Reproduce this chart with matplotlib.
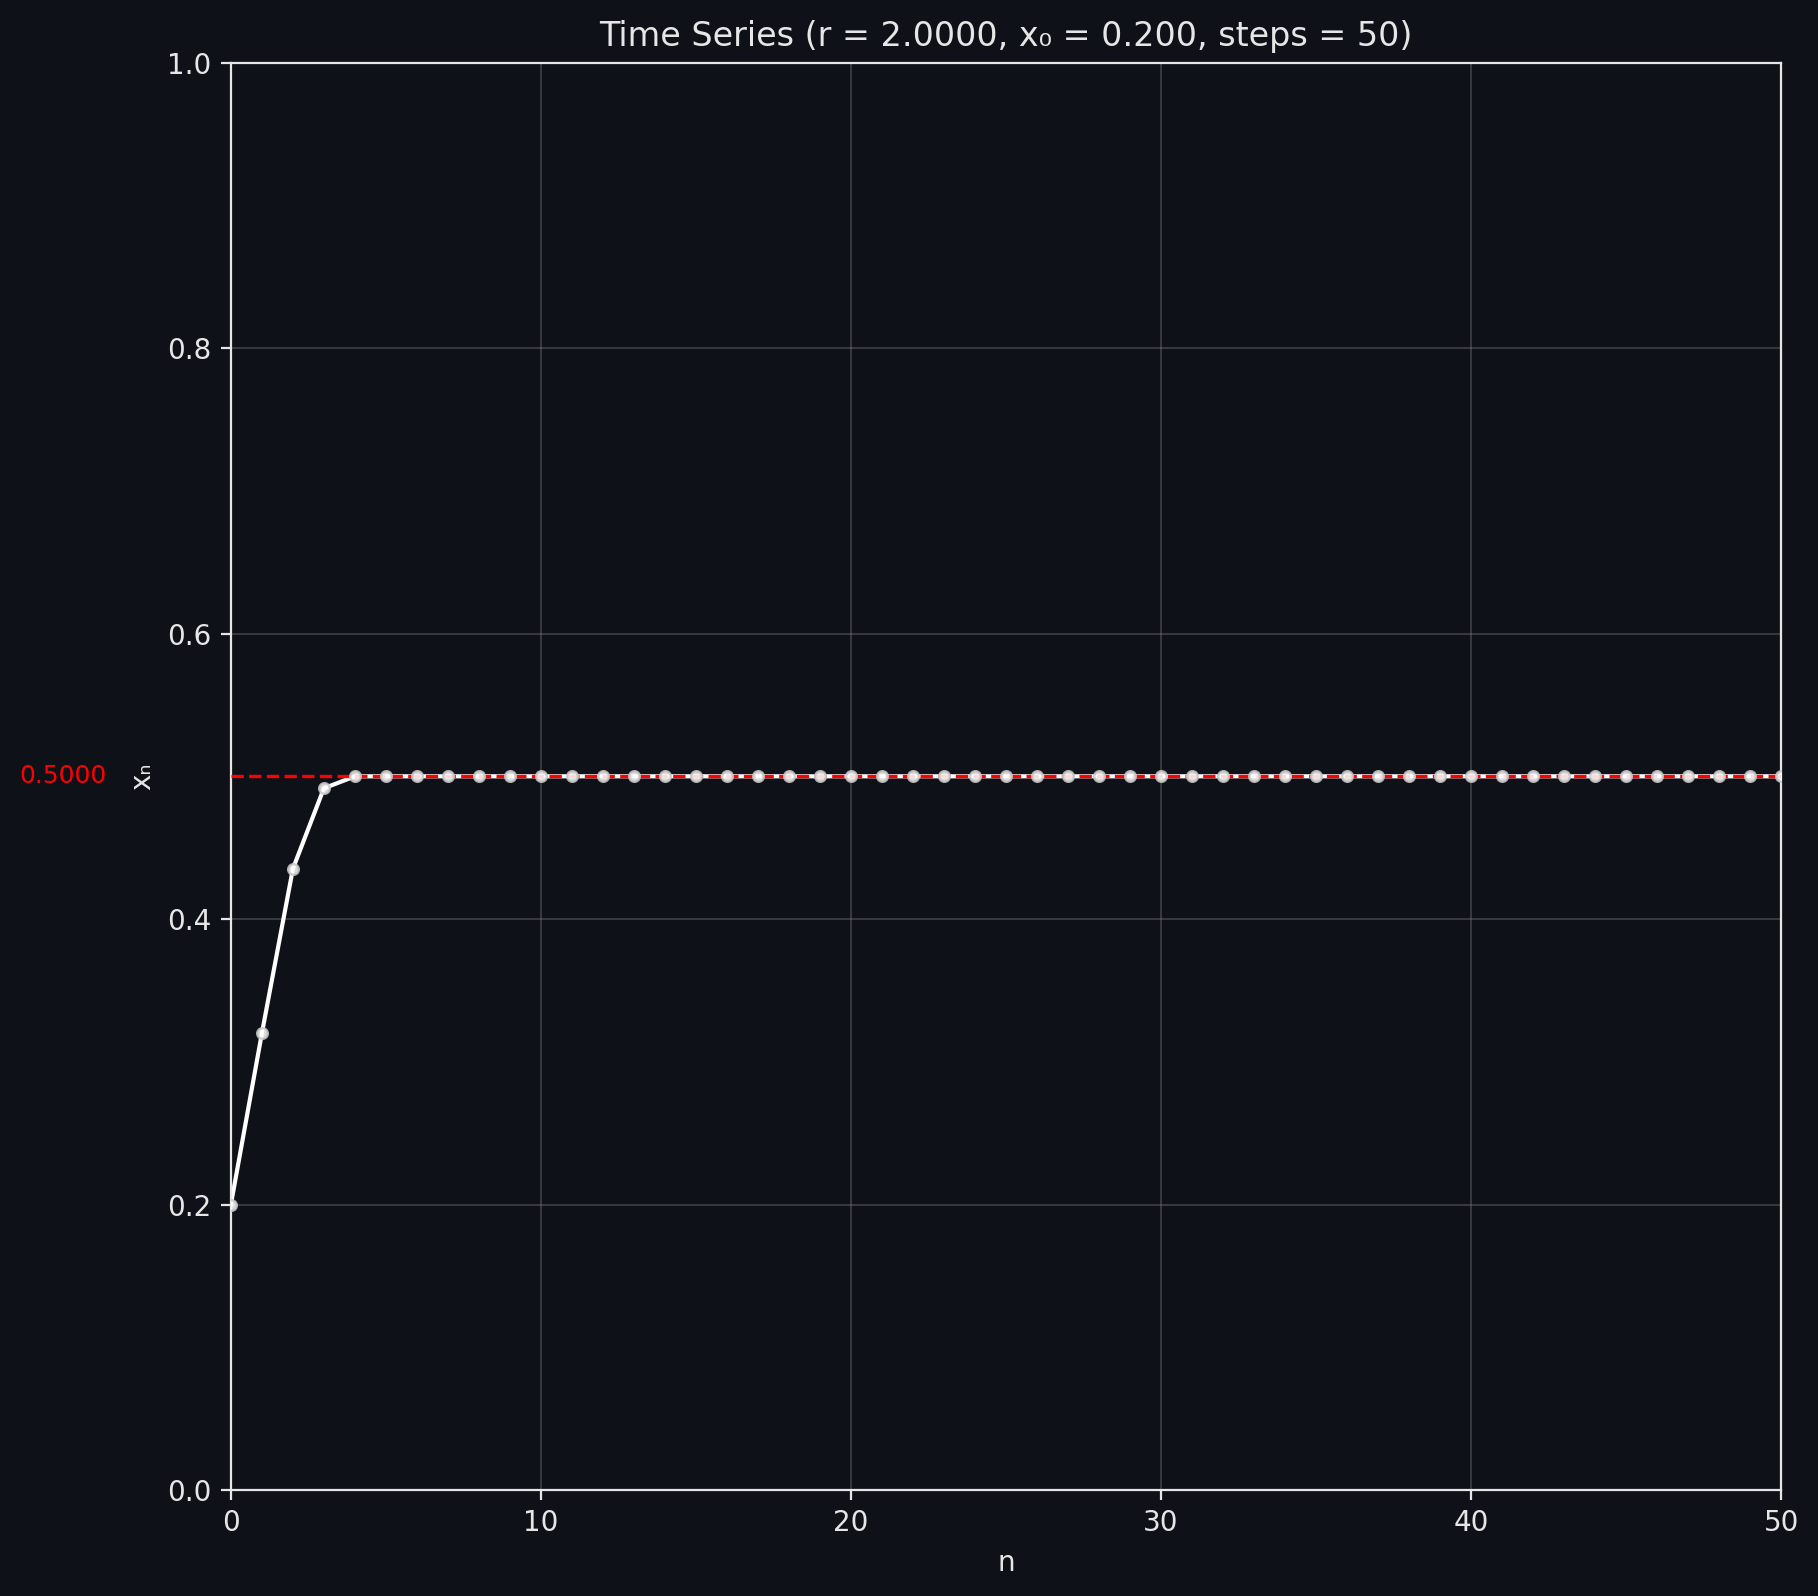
import numpy as np
import matplotlib
matplotlib.use("Agg")
import matplotlib.pyplot as plt

# logistic map readings (r = 2, x0 = 0.2)
r_val = 2.0
x_start = 0.2
n_steps = 50
x_head = [0.2, 0.32, 0.4352, 0.4916, 0.49997]
x_tail = [0.5] * 46
x_vals = np.array(x_head + x_tail)
n_vals = np.arange(len(x_vals))
fixed_point = 0.5

bg = "#0e1117"
fg = "#e6e6e6"

fig, ax = plt.subplots(figsize=(9.09, 7.98), dpi=200)
fig.patch.set_facecolor(bg)
ax.set_facecolor(bg)
fig.subplots_adjust(left=0.127, right=0.9797, bottom=0.0664, top=0.9608)

ax.plot(n_vals, x_vals, color="white", lw=1.5, zorder=2)
ax.axhline(fixed_point, color="red", ls="--", lw=1.2, zorder=3)
ax.plot(n_vals, x_vals, ls="none", marker="o", ms=3.8, mfc="white",
        mec="#c8c8c8", mew=0.9, alpha=0.85, zorder=4)

ax.text(-0.08, fixed_point, "%.4f" % fixed_point, color="red", fontsize=9,
        ha="right", va="center", transform=ax.get_yaxis_transform())

ax.set_xlim(0, n_steps)
ax.set_ylim(0, 1)
ax.set_xlabel("n", color=fg, fontsize=10)
ax.set_ylabel("xₙ", color=fg, fontsize=10)
ax.set_title("Time Series (r = %.4f, x₀ = %.3f, steps = %d)" % (r_val, x_start, n_steps),
             color=fg, fontsize=12)
ax.grid(True, color="#888888", alpha=0.4, lw=0.6)
ax.tick_params(colors=fg, labelsize=10)
for s in ax.spines.values():
    s.set_color(fg)

fig.savefig("out.png", dpi=200, facecolor=bg)
